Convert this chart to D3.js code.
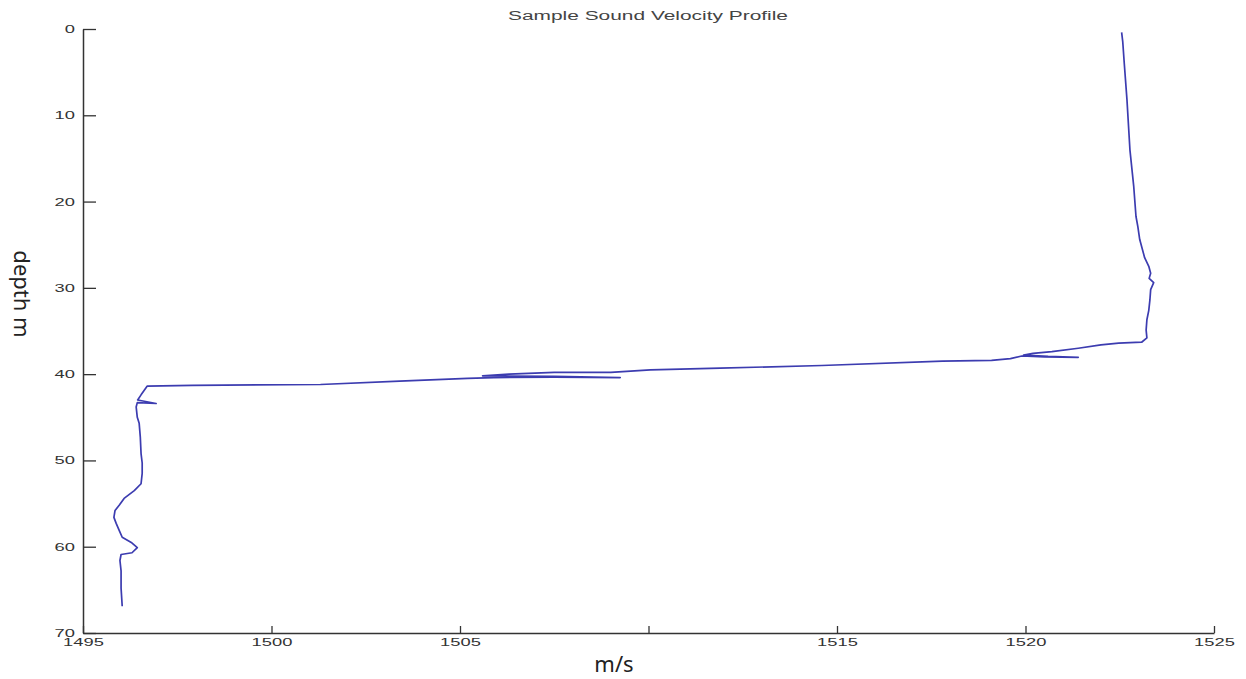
<!DOCTYPE html>
<html>
<head>
<meta charset="utf-8">
<script src="https://cdn.jsdelivr.net/npm/d3@7"></script>
<style>
  body { margin: 0; background: #fff; }
  svg { display: block; }
</style>
</head>
<body>
<script>
// sound velocity profile
const velocity = [
  1522.55, 1522.58, 1522.62, 1522.69, 1522.77, 1522.87, 1522.93, 1522.98, 1523.03, 1523.16,
  1523.27, 1523.32, 1523.28, 1523.40, 1523.32, 1523.30, 1523.27, 1523.22, 1523.20, 1523.22,
  1523.08, 1522.47, 1522.00, 1521.40, 1520.70, 1520.20, 1519.95, 1520.60, 1521.40, 1520.50,
  1519.90, 1519.60, 1519.10, 1517.80, 1514.60, 1511.90, 1510.05, 1509.00, 1507.50, 1506.30,
  1505.60, 1507.50, 1509.25, 1507.50, 1505.90, 1505.20, 1503.40, 1501.30, 1497.90, 1496.70,
  1496.62, 1496.54, 1496.45, 1496.94, 1496.44, 1496.41, 1496.44, 1496.49, 1496.52, 1496.54,
  1496.57, 1496.57, 1496.54, 1496.36, 1496.09, 1495.96, 1495.85, 1495.82, 1495.88, 1495.96,
  1496.04, 1496.28, 1496.44, 1496.30, 1496.01, 1495.98, 1496.01, 1496.01, 1496.04
];
const depth = [
  0.4, 1.5, 4.0, 8.1, 14.0, 18.2, 21.7, 22.9, 24.4, 26.5,
  27.5, 28.3, 28.9, 29.4, 30.2, 31.4, 32.6, 33.7, 34.9, 35.8,
  36.3, 36.4, 36.6, 37.0, 37.4, 37.6, 37.8, 37.95, 38.05, 38.0,
  37.9, 38.2, 38.4, 38.5, 39.0, 39.3, 39.5, 39.8, 39.8, 40.0,
  40.2, 40.25, 40.4, 40.35, 40.4, 40.5, 40.8, 41.2, 41.3, 41.4,
  41.9, 42.4, 43.0, 43.4, 43.3, 43.8, 45.0, 45.7, 47.3, 49.2,
  50.3, 51.5, 52.7, 53.5, 54.4, 55.2, 55.8, 56.6, 57.3, 58.1,
  58.9, 59.5, 60.1, 60.7, 60.9, 61.6, 62.8, 64.8, 66.9
];
const xTicks = [1495, 1500, 1505, 1510, 1515, 1520, 1525];
const xTickLabels = ["1495", "1500", "1505", "", "1515", "1520", "1525"];
const yTicks = [0, 10, 20, 30, 40, 50, 60, 70];

const W = 1246, H = 679;
const margin = { top: 29, right: 32, bottom: 46, left: 83 };
const width = W - margin.left - margin.right,
      height = H - margin.top - margin.bottom;

const svg = d3.select("body").append("svg")
    .attr("width", W)
    .attr("height", H);

const g = svg.append("g")
    .attr("transform", `translate(${margin.left},${margin.top})`);

const x = d3.scaleLinear().domain([1495, 1525]).range([0, width]);
const y = d3.scaleLinear().domain([0, 70]).range([0, height]);

const tickFont = "Liberation Sans, Arial, sans-serif";
const digitW = 10.2;  // labels in the picture are stretched wide

// bottom axis, ticks pointing up
const xAxis = g.append("g")
    .attr("transform", `translate(0,${height})`)
    .call(d3.axisBottom(x).tickValues(xTicks)
      .tickFormat((d, i) => xTickLabels[i])
      .tickSizeInner(-7).tickSizeOuter(0).tickPadding(5));
xAxis.select(".domain").attr("stroke", "#333").attr("stroke-width", 1.5);
xAxis.selectAll(".tick line").attr("stroke", "#333").attr("stroke-width", 1.3);
xAxis.selectAll(".tick text")
    .attr("fill", "#333")
    .attr("text-anchor", "start")
    .style("font-family", tickFont)
    .style("font-size", "11px")
    .attr("x", d => -xTickLabels[xTicks.indexOf(d)].length * digitW / 2)
    .attr("textLength", d => Math.max(1, xTickLabels[xTicks.indexOf(d)].length * digitW))
    .attr("lengthAdjust", "spacingAndGlyphs");

// left axis, ticks pointing right
const yAxis = g.append("g")
    .call(d3.axisLeft(y).tickValues(yTicks)
      .tickSizeInner(-13).tickSizeOuter(0).tickPadding(8));
yAxis.select(".domain").attr("stroke", "#333").attr("stroke-width", 1.5);
yAxis.selectAll(".tick line").attr("stroke", "#333").attr("stroke-width", 1.3);
yAxis.selectAll(".tick text")
    .attr("fill", "#333")
    .attr("text-anchor", "start")
    .style("font-family", tickFont)
    .style("font-size", "11px")
    .attr("x", d => -8 - String(d).length * digitW)
    .attr("textLength", d => String(d).length * digitW)
    .attr("lengthAdjust", "spacingAndGlyphs");

// profile line
const line = d3.line()
    .x((d, i) => x(velocity[i]))
    .y((d, i) => y(depth[i]));

g.append("path")
    .datum(depth)
    .attr("fill", "none")
    .attr("stroke", "#3c3cb0")
    .attr("stroke-width", 1.7)
    .attr("stroke-linejoin", "round")
    .attr("d", line);

// title
svg.append("text")
    .attr("x", 508)
    .attr("y", 20)
    .attr("fill", "#444")
    .style("font-family", tickFont)
    .style("font-size", "12px")
    .attr("textLength", 280)
    .attr("lengthAdjust", "spacingAndGlyphs")
    .text("Sample Sound Velocity Profile");

// axis labels
svg.append("text")
    .attr("x", 614)
    .attr("y", 672)
    .attr("text-anchor", "middle")
    .attr("fill", "#222")
    .style("font-family", "Noto Sans, sans-serif")
    .style("font-size", "22px")
    .text("m/s");

svg.append("text")
    .attr("transform", "translate(14,294) rotate(90)")
    .attr("text-anchor", "middle")
    .attr("fill", "#222")
    .style("font-family", "Noto Sans, sans-serif")
    .style("font-size", "22px")
    .text("depth m");
</script>
</body>
</html>
